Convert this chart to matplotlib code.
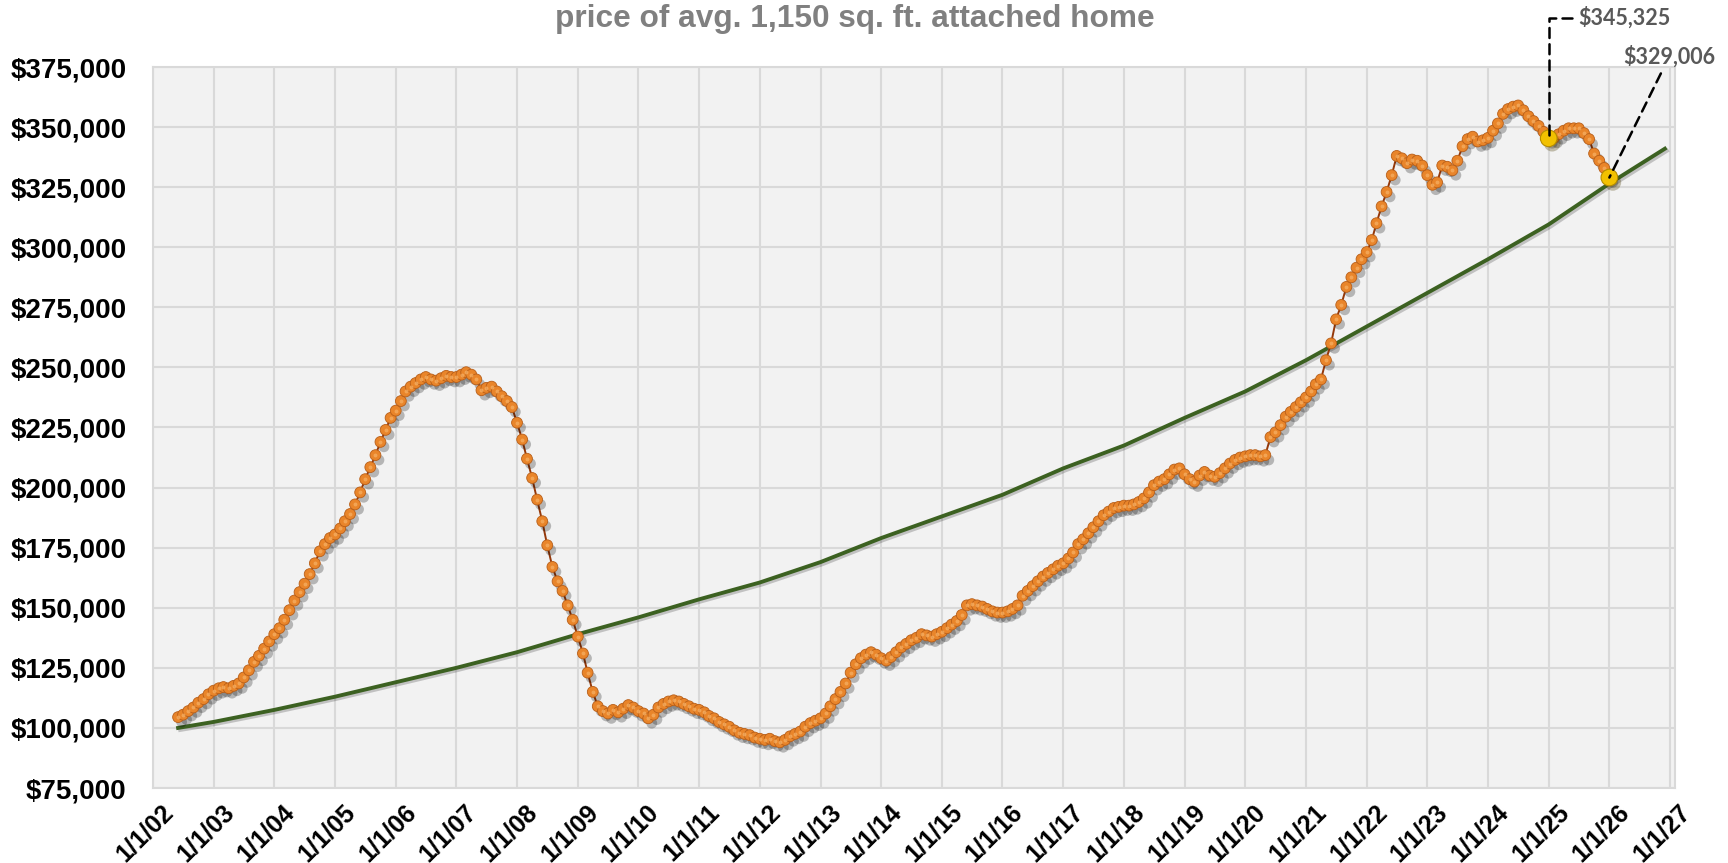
import numpy as np
import pandas as pd
import matplotlib
matplotlib.use("Agg")
import matplotlib.pyplot as plt
import matplotlib.patheffects as pe
from matplotlib.ticker import FuncFormatter, MultipleLocator
from matplotlib.transforms import ScaledTranslation

# monthly price of the avg. attached home, first month is June 2002
price_start = "2002-06-01"
home_price = [
    104500, 105500, 107000, 108500, 110500, 112000, 114000,                                   # 2002 (Jun-Dec)
    115500, 116500, 117000, 116500, 117500, 118500, 121000, 124000, 127500, 130000, 133000, 136000,  # 2003
    139000, 141500, 145000, 149000, 153000, 156500, 160000, 164000, 168500, 173500, 176500, 179000,  # 2004
    180500, 183000, 186000, 189000, 193000, 198000, 203500, 208500, 213500, 219000, 224000, 229000,  # 2005
    232000, 236000, 240000, 242000, 243500, 245000, 246000, 245000, 244500, 245500, 246500, 246000,  # 2006
    246000, 247000, 248000, 247000, 245000, 240500, 241500, 242000, 240000, 238000, 236000, 233500,  # 2007
    227000, 220000, 212000, 204000, 195000, 186000, 176000, 167000, 161000, 157000, 151000, 145000,  # 2008
    138000, 131000, 123000, 115000, 109000, 107000, 106000, 107500, 106500, 108000, 109500, 108500,  # 2009
    107000, 106000, 104000, 105500, 108500, 110000, 111000, 111500, 111000, 110000, 109000, 108000,  # 2010
    107500, 106500, 105000, 104000, 102500, 101500, 100500, 99000, 98000, 97500, 97000, 96000,       # 2011
    95500, 95000, 95500, 94500, 94000, 95000, 96500, 97500, 98500, 100500, 102000, 103000,           # 2012
    104000, 106000, 109000, 112000, 115000, 118500, 123000, 126500, 129000, 130500, 131500, 130500,  # 2013
    129000, 128000, 129500, 131500, 133500, 135000, 136500, 137500, 139000, 138500, 138000, 139000,  # 2014
    140000, 141500, 143000, 144500, 147000, 151000, 151500, 151000, 150500, 149500, 148500, 148000,  # 2015
    148000, 148500, 149500, 151000, 155000, 157000, 159000, 161000, 163000, 164500, 166000, 167500,  # 2016
    168500, 170500, 173000, 176500, 178500, 181000, 183500, 186000, 188500, 190000, 191500, 192000,  # 2017
    192500, 192500, 193000, 194000, 195500, 198000, 201000, 202500, 203500, 205500, 207500, 208000,  # 2018
    205500, 203500, 202500, 205000, 206500, 205000, 204500, 206000, 208000, 210000, 211500, 212500,  # 2019
    213000, 213500, 213500, 213000, 213500, 221000, 223000, 226000, 229500, 231500, 233500, 235500,  # 2020
    237500, 240000, 243000, 245000, 253000, 260000, 270000, 276000, 283500, 287500, 291500, 295000,  # 2021
    298000, 303000, 310000, 317000, 323000, 330000, 338000, 337000, 335000, 336500, 336000, 334000,  # 2022
    330000, 326000, 327000, 334000, 333500, 332000, 336000, 342000, 345000, 346000, 344000, 344500,  # 2023
    345500, 348500, 351500, 355500, 357500, 358500, 359000, 357000, 354500, 352500, 350500, 348000,  # 2024
    345325, 345500, 347000, 348500, 349500, 349500, 349500, 347500, 345000, 339000, 336000, 333000,  # 2025
    329006,                                                                                          # 2026
]

# long run trend line
trend_dates = ["2002-06-01", "2003-01-01", "2004-01-01", "2005-01-01", "2006-01-01", "2007-01-01",
               "2008-01-01", "2009-01-01", "2010-01-01", "2011-01-01", "2012-01-01", "2013-01-01",
               "2014-01-01", "2015-01-01", "2016-01-01", "2017-01-01", "2018-01-01", "2019-01-01",
               "2020-01-01", "2021-01-01", "2022-01-01", "2023-01-01", "2024-01-01", "2025-01-01",
               "2026-01-01", "2026-12-01"]
trend_values = [100000, 102500, 107500, 113000, 119000, 125000, 131500, 139000, 146000, 153500,
                160500, 169000, 179000, 188000, 197000, 208000, 217500, 229000, 240000, 253000,
                267000, 281000, 295000, 309500, 326500, 341000]

highlight_dates = ["2025-01-01", "2026-01-01"]
highlight_values = [345325, 329006]

title = "price of avg. 1,150 sq. ft. attached home"

price_dates = pd.date_range(price_start, periods=len(home_price), freq="MS")
trend_dates = pd.to_datetime(trend_dates)
highlight_dates = pd.to_datetime(highlight_dates)

W, H = 1728, 863
fig = plt.figure(figsize=(W / 100, H / 100), dpi=100)
ax = fig.add_axes([153 / W, 1 - 788 / H, (1675 - 153) / W, (788 - 67) / H])
ax.set_facecolor("#F2F2F2")
for s in ax.spines.values():
    s.set_color("#D9D9D9")
    s.set_linewidth(1.5)

ax.grid(True, color="#D9D9D9", linewidth=1.5)
ax.set_axisbelow(True)

# trend
ax.plot(trend_dates, trend_values, color="#3C6121", linewidth=2.8, zorder=3,
        path_effects=[pe.SimpleLineShadow(offset=(1.5, -1.5), alpha=0.2), pe.Normal()])

# price line + dots
ax.plot(price_dates, home_price, color="#94380A", linewidth=1.4, zorder=4)
ax.plot(price_dates, home_price, linestyle="none", marker="o", markersize=7.8,
        markerfacecolor="#E9852A", markeredgecolor="#B85E18", markeredgewidth=0.6, zorder=5,
        path_effects=[pe.SimplePatchShadow(offset=(2.5, -3.5), shadow_rgbFace="#000000", alpha=0.25),
                      pe.Normal()])
ax.plot(price_dates, home_price, linestyle="none", marker="o", markersize=2.8,
        markerfacecolor="#F7B267", markeredgewidth=0, zorder=6, alpha=0.7)

# highlighted points
ax.plot(highlight_dates, highlight_values, linestyle="none", marker="o", markersize=12,
        markerfacecolor="#F2C100", markeredgecolor="#B58C00", markeredgewidth=0.8, zorder=7,
        path_effects=[pe.SimplePatchShadow(offset=(2.5, -3.5), alpha=0.3), pe.Normal()])

lbl_font = dict(family=["Lato", "DejaVu Sans"], fontsize=15.5, fontweight="bold", color="#595959")
dash = dict(arrowstyle="-", color="black", linestyle=(0, (4, 2.5)), linewidth=1.8,
            shrinkA=2, shrinkB=0)
ax.annotate(f"${highlight_values[0]:,}", xy=(highlight_dates[0], highlight_values[0]),
            xytext=(1578, H - 18), textcoords="figure pixels", ha="left", va="center",
            arrowprops=dict(connectionstyle="angle,angleA=0,angleB=90,rad=0", **dash),
            zorder=8, annotation_clip=False, **lbl_font)
ax.annotate(f"${highlight_values[1]:,}", xy=(highlight_dates[1], highlight_values[1]),
            xytext=(1669, H - 57), textcoords="figure pixels", ha="center", va="center",
            arrowprops=dict(**dash), zorder=8, annotation_clip=False, **lbl_font)

# axes
ax.set_ylim(75000, 375000)
ax.yaxis.set_major_locator(MultipleLocator(25000))
ax.yaxis.set_major_formatter(FuncFormatter(lambda v, p: f"${v:,.0f}"))
ax.set_xlim(pd.Timestamp("2002-01-01"), pd.Timestamp("2027-01-31"))
ticks = pd.date_range("2002-01-01", "2027-01-01", freq="YS")
ax.set_xticks(ticks)
ax.set_xticklabels([f"{d.month}/{d.day}/{d:%y}" for d in ticks])
ax.tick_params(length=0)
ax.tick_params(axis="y", pad=19)
ax.tick_params(axis="x", pad=4)
for t in ax.get_yticklabels():
    t.set_fontfamily("Liberation Sans")
    t.set_fontweight("bold")
    t.set_fontsize(20)
shift = ScaledTranslation(0.08, -0.06, fig.dpi_scale_trans)
for t in ax.get_xticklabels():
    t.set_fontfamily("Liberation Sans")
    t.set_fontweight("bold")
    t.set_fontsize(18)
    t.set_rotation(45)
    t.set_rotation_mode("anchor")
    t.set_ha("right")
    t.set_va("top")
    t.set_transform(t.get_transform() + shift)

fig.text(855 / W, 1 - 27 / H, title, ha="center", va="baseline", fontsize=22.8,
         fontweight="bold", color="#808080", family="Liberation Sans")

fig.savefig("out.png", dpi=100)
